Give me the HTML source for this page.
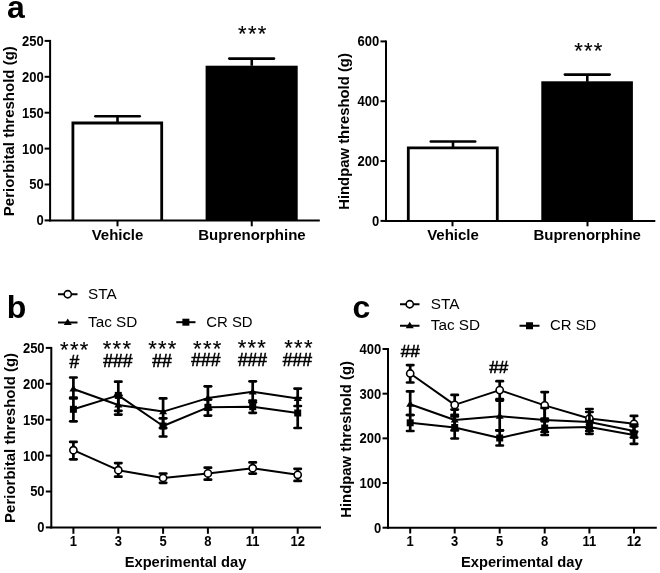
<!DOCTYPE html>
<html><head><meta charset="utf-8"><style>
html,body{margin:0;padding:0;background:#fff;width:660px;height:573px;overflow:hidden}
svg{display:block;filter:blur(0.35px)}
text{font-family:"Liberation Sans",sans-serif;fill:#000}
</style></head><body>
<svg width="660" height="573" viewBox="0 0 660 573">
<rect width="660" height="573" fill="#fff"/>
<text x="7.00" y="18.20" font-size="32" font-weight="bold" text-anchor="start" >a</text>
<line x1="50.10" y1="39.90" x2="50.10" y2="221.40" stroke="#000" stroke-width="2.0" stroke-linecap="butt"/>
<line x1="44.60" y1="220.40" x2="50.10" y2="220.40" stroke="#000" stroke-width="2.0" stroke-linecap="butt"/>
<text transform="translate(43.70,225.30) scale(1,1.08)" font-size="13" font-weight="bold" text-anchor="end">0</text>
<line x1="44.60" y1="184.50" x2="50.10" y2="184.50" stroke="#000" stroke-width="2.0" stroke-linecap="butt"/>
<text transform="translate(43.70,189.40) scale(1,1.08)" font-size="13" font-weight="bold" text-anchor="end">50</text>
<line x1="44.60" y1="148.60" x2="50.10" y2="148.60" stroke="#000" stroke-width="2.0" stroke-linecap="butt"/>
<text transform="translate(43.70,153.50) scale(1,1.08)" font-size="13" font-weight="bold" text-anchor="end">100</text>
<line x1="44.60" y1="112.70" x2="50.10" y2="112.70" stroke="#000" stroke-width="2.0" stroke-linecap="butt"/>
<text transform="translate(43.70,117.60) scale(1,1.08)" font-size="13" font-weight="bold" text-anchor="end">150</text>
<line x1="44.60" y1="76.80" x2="50.10" y2="76.80" stroke="#000" stroke-width="2.0" stroke-linecap="butt"/>
<text transform="translate(43.70,81.70) scale(1,1.08)" font-size="13" font-weight="bold" text-anchor="end">200</text>
<line x1="44.60" y1="40.90" x2="50.10" y2="40.90" stroke="#000" stroke-width="2.0" stroke-linecap="butt"/>
<text transform="translate(43.70,45.80) scale(1,1.08)" font-size="13" font-weight="bold" text-anchor="end">250</text>
<path d="M72.9 220.40 V123 H161.7 V220.40" fill="#fff" stroke="#000" stroke-width="2.8" stroke-linejoin="miter"/>
<line x1="117.50" y1="123.00" x2="117.50" y2="116.00" stroke="#000" stroke-width="2.6" stroke-linecap="butt"/>
<line x1="95.40" y1="116.30" x2="139.70" y2="116.30" stroke="#000" stroke-width="2.6" stroke-linecap="round"/>
<rect x="205.6" y="65.7" width="92.1" height="154.90" fill="#000"/>
<line x1="251.75" y1="65.75" x2="251.75" y2="58.50" stroke="#000" stroke-width="2.6" stroke-linecap="butt"/>
<line x1="229.30" y1="58.60" x2="274.00" y2="58.60" stroke="#000" stroke-width="2.6" stroke-linecap="round"/>
<line x1="49.10" y1="220.40" x2="319.80" y2="220.40" stroke="#000" stroke-width="2.0" stroke-linecap="butt"/>
<line x1="117.50" y1="220.40" x2="117.50" y2="226.30" stroke="#000" stroke-width="2.0" stroke-linecap="butt"/>
<line x1="251.75" y1="220.40" x2="251.75" y2="226.30" stroke="#000" stroke-width="2.0" stroke-linecap="butt"/>
<text x="252.85" y="40.50" font-size="22" text-anchor="middle" letter-spacing="1.3" stroke="#000" stroke-width="0.15">***</text>
<text x="117.50" y="240.30" font-size="15" font-weight="bold" text-anchor="middle" >Vehicle</text>
<text x="251.90" y="240.30" font-size="15" font-weight="bold" text-anchor="middle" >Buprenorphine</text>
<text transform="translate(14.0,131.2) rotate(-90)" font-size="15" font-weight="bold" text-anchor="middle">Periorbital threshold (g)</text>
<line x1="386.00" y1="40.40" x2="386.00" y2="221.90" stroke="#000" stroke-width="2.0" stroke-linecap="butt"/>
<line x1="380.50" y1="220.90" x2="386.00" y2="220.90" stroke="#000" stroke-width="2.0" stroke-linecap="butt"/>
<text transform="translate(379.30,225.80) scale(1,1.08)" font-size="13" font-weight="bold" text-anchor="end">0</text>
<line x1="380.50" y1="161.07" x2="386.00" y2="161.07" stroke="#000" stroke-width="2.0" stroke-linecap="butt"/>
<text transform="translate(379.30,165.97) scale(1,1.08)" font-size="13" font-weight="bold" text-anchor="end">200</text>
<line x1="380.50" y1="101.23" x2="386.00" y2="101.23" stroke="#000" stroke-width="2.0" stroke-linecap="butt"/>
<text transform="translate(379.30,106.13) scale(1,1.08)" font-size="13" font-weight="bold" text-anchor="end">400</text>
<line x1="380.50" y1="41.40" x2="386.00" y2="41.40" stroke="#000" stroke-width="2.0" stroke-linecap="butt"/>
<text transform="translate(379.30,46.30) scale(1,1.08)" font-size="13" font-weight="bold" text-anchor="end">600</text>
<path d="M408.3 220.90 V147.9 H497.3 V220.90" fill="#fff" stroke="#000" stroke-width="2.8" stroke-linejoin="miter"/>
<line x1="453.00" y1="147.50" x2="453.00" y2="141.50" stroke="#000" stroke-width="2.6" stroke-linecap="butt"/>
<line x1="430.80" y1="141.50" x2="475.20" y2="141.50" stroke="#000" stroke-width="2.6" stroke-linecap="round"/>
<rect x="541.3" y="81.3" width="91.6" height="139.60" fill="#000"/>
<line x1="587.30" y1="81.75" x2="587.30" y2="74.60" stroke="#000" stroke-width="2.6" stroke-linecap="butt"/>
<line x1="564.90" y1="74.60" x2="609.70" y2="74.60" stroke="#000" stroke-width="2.6" stroke-linecap="round"/>
<line x1="385.00" y1="220.90" x2="655.30" y2="220.90" stroke="#000" stroke-width="2.0" stroke-linecap="butt"/>
<line x1="452.50" y1="220.90" x2="452.50" y2="226.30" stroke="#000" stroke-width="2.0" stroke-linecap="butt"/>
<line x1="587.50" y1="220.90" x2="587.50" y2="226.30" stroke="#000" stroke-width="2.0" stroke-linecap="butt"/>
<text x="588.95" y="58.30" font-size="22" text-anchor="middle" letter-spacing="1.3" stroke="#000" stroke-width="0.15">***</text>
<text x="453.00" y="240.30" font-size="15" font-weight="bold" text-anchor="middle" >Vehicle</text>
<text x="587.20" y="240.30" font-size="15" font-weight="bold" text-anchor="middle" >Buprenorphine</text>
<text transform="translate(348.9,131.5) rotate(-90)" font-size="14.85" font-weight="bold" text-anchor="middle">Hindpaw threshold (g)</text>
<text x="6.70" y="317.70" font-size="32" font-weight="bold" text-anchor="start" >b</text>
<text transform="translate(15.0,437.9) rotate(-90)" font-size="15" font-weight="bold" text-anchor="middle">Periorbital threshold (g)</text>
<line x1="51.30" y1="346.90" x2="51.30" y2="528.40" stroke="#000" stroke-width="2.0" stroke-linecap="butt"/>
<line x1="45.80" y1="527.40" x2="51.30" y2="527.40" stroke="#000" stroke-width="2.0" stroke-linecap="butt"/>
<text transform="translate(44.60,532.30) scale(1,1.08)" font-size="13" font-weight="bold" text-anchor="end">0</text>
<line x1="45.80" y1="491.50" x2="51.30" y2="491.50" stroke="#000" stroke-width="2.0" stroke-linecap="butt"/>
<text transform="translate(44.60,496.40) scale(1,1.08)" font-size="13" font-weight="bold" text-anchor="end">50</text>
<line x1="45.80" y1="455.60" x2="51.30" y2="455.60" stroke="#000" stroke-width="2.0" stroke-linecap="butt"/>
<text transform="translate(44.60,460.50) scale(1,1.08)" font-size="13" font-weight="bold" text-anchor="end">100</text>
<line x1="45.80" y1="419.70" x2="51.30" y2="419.70" stroke="#000" stroke-width="2.0" stroke-linecap="butt"/>
<text transform="translate(44.60,424.60) scale(1,1.08)" font-size="13" font-weight="bold" text-anchor="end">150</text>
<line x1="45.80" y1="383.80" x2="51.30" y2="383.80" stroke="#000" stroke-width="2.0" stroke-linecap="butt"/>
<text transform="translate(44.60,388.70) scale(1,1.08)" font-size="13" font-weight="bold" text-anchor="end">200</text>
<line x1="45.80" y1="347.90" x2="51.30" y2="347.90" stroke="#000" stroke-width="2.0" stroke-linecap="butt"/>
<text transform="translate(44.60,352.80) scale(1,1.08)" font-size="13" font-weight="bold" text-anchor="end">250</text>
<line x1="50.30" y1="527.40" x2="321.00" y2="527.40" stroke="#000" stroke-width="2.0" stroke-linecap="butt"/>
<line x1="73.40" y1="527.40" x2="73.40" y2="533.80" stroke="#000" stroke-width="2.0" stroke-linecap="butt"/>
<text transform="translate(73.40,545.7) scale(1,1.08)" font-size="13" font-weight="bold" text-anchor="middle">1</text>
<line x1="118.30" y1="527.40" x2="118.30" y2="533.80" stroke="#000" stroke-width="2.0" stroke-linecap="butt"/>
<text transform="translate(118.30,545.7) scale(1,1.08)" font-size="13" font-weight="bold" text-anchor="middle">3</text>
<line x1="163.10" y1="527.40" x2="163.10" y2="533.80" stroke="#000" stroke-width="2.0" stroke-linecap="butt"/>
<text transform="translate(163.10,545.7) scale(1,1.08)" font-size="13" font-weight="bold" text-anchor="middle">5</text>
<line x1="207.90" y1="527.40" x2="207.90" y2="533.80" stroke="#000" stroke-width="2.0" stroke-linecap="butt"/>
<text transform="translate(207.90,545.7) scale(1,1.08)" font-size="13" font-weight="bold" text-anchor="middle">8</text>
<line x1="252.70" y1="527.40" x2="252.70" y2="533.80" stroke="#000" stroke-width="2.0" stroke-linecap="butt"/>
<text transform="translate(252.70,545.7) scale(1,1.08)" font-size="13" font-weight="bold" text-anchor="middle">11</text>
<line x1="297.70" y1="527.40" x2="297.70" y2="533.80" stroke="#000" stroke-width="2.0" stroke-linecap="butt"/>
<text transform="translate(297.70,545.7) scale(1,1.08)" font-size="13" font-weight="bold" text-anchor="middle">12</text>
<text x="185.50" y="566.60" font-size="14.7" font-weight="bold" text-anchor="middle" >Experimental day</text>
<line x1="58.00" y1="294.25" x2="77.50" y2="294.25" stroke="#000" stroke-width="2.0" stroke-linecap="butt"/>
<circle cx="67.75" cy="294.25" r="3.6" fill="#fff" stroke="#000" stroke-width="1.6"/>
<text x="88.00" y="298.85" font-size="15.3" font-weight="normal" text-anchor="start" >STA</text>
<line x1="58.00" y1="322.50" x2="77.50" y2="322.50" stroke="#000" stroke-width="2.0" stroke-linecap="butt"/>
<polygon points="63.75,325.10 71.75,325.10 67.75,318.60" fill="#000"/>
<text x="88.00" y="327.00" font-size="15.3" font-weight="normal" text-anchor="start" >Tac SD</text>
<line x1="176.25" y1="322.20" x2="195.50" y2="322.20" stroke="#000" stroke-width="2.0" stroke-linecap="butt"/>
<rect x="182.38" y="318.70" width="7" height="7" fill="#000"/>
<text x="206.25" y="326.80" font-size="14.9" font-weight="normal" text-anchor="start" >CR SD</text>
<text x="74.90" y="357.10" font-size="22" text-anchor="middle" letter-spacing="1.3" stroke="#000" stroke-width="0.15">***</text>
<text x="74.35" y="368.00" font-size="17.5" text-anchor="middle" stroke="#000" stroke-width="0.6">#</text>
<text x="117.55" y="355.70" font-size="22" text-anchor="middle" letter-spacing="1.3" stroke="#000" stroke-width="0.15">***</text>
<text x="117.90" y="367.40" font-size="17.5" text-anchor="middle" stroke="#000" stroke-width="0.6">###</text>
<text x="162.95" y="355.70" font-size="22" text-anchor="middle" letter-spacing="1.3" stroke="#000" stroke-width="0.15">***</text>
<text x="162.00" y="366.70" font-size="17.5" text-anchor="middle" stroke="#000" stroke-width="0.6">##</text>
<text x="207.85" y="355.70" font-size="22" text-anchor="middle" letter-spacing="1.3" stroke="#000" stroke-width="0.15">***</text>
<text x="205.90" y="365.90" font-size="17.5" text-anchor="middle" stroke="#000" stroke-width="0.6">###</text>
<text x="252.45" y="355.10" font-size="22" text-anchor="middle" letter-spacing="1.3" stroke="#000" stroke-width="0.15">***</text>
<text x="252.50" y="365.90" font-size="17.5" text-anchor="middle" stroke="#000" stroke-width="0.6">###</text>
<text x="299.05" y="354.70" font-size="22" text-anchor="middle" letter-spacing="1.3" stroke="#000" stroke-width="0.15">***</text>
<text x="297.40" y="365.70" font-size="17.5" text-anchor="middle" stroke="#000" stroke-width="0.6">###</text>
<line x1="73.40" y1="441.90" x2="73.40" y2="459.30" stroke="#000" stroke-width="2.7" stroke-linecap="butt"/>
<line x1="70.20" y1="441.90" x2="76.60" y2="441.90" stroke="#000" stroke-width="2.7" stroke-linecap="round"/>
<line x1="70.20" y1="459.30" x2="76.60" y2="459.30" stroke="#000" stroke-width="2.7" stroke-linecap="round"/>
<line x1="118.30" y1="463.10" x2="118.30" y2="476.70" stroke="#000" stroke-width="2.7" stroke-linecap="butt"/>
<line x1="115.10" y1="463.10" x2="121.50" y2="463.10" stroke="#000" stroke-width="2.7" stroke-linecap="round"/>
<line x1="115.10" y1="476.70" x2="121.50" y2="476.70" stroke="#000" stroke-width="2.7" stroke-linecap="round"/>
<line x1="163.10" y1="473.50" x2="163.10" y2="482.80" stroke="#000" stroke-width="2.7" stroke-linecap="butt"/>
<line x1="159.90" y1="473.50" x2="166.30" y2="473.50" stroke="#000" stroke-width="2.7" stroke-linecap="round"/>
<line x1="159.90" y1="482.80" x2="166.30" y2="482.80" stroke="#000" stroke-width="2.7" stroke-linecap="round"/>
<line x1="207.90" y1="467.70" x2="207.90" y2="479.70" stroke="#000" stroke-width="2.7" stroke-linecap="butt"/>
<line x1="204.70" y1="467.70" x2="211.10" y2="467.70" stroke="#000" stroke-width="2.7" stroke-linecap="round"/>
<line x1="204.70" y1="479.70" x2="211.10" y2="479.70" stroke="#000" stroke-width="2.7" stroke-linecap="round"/>
<line x1="252.70" y1="462.40" x2="252.70" y2="473.60" stroke="#000" stroke-width="2.7" stroke-linecap="butt"/>
<line x1="249.50" y1="462.40" x2="255.90" y2="462.40" stroke="#000" stroke-width="2.7" stroke-linecap="round"/>
<line x1="249.50" y1="473.60" x2="255.90" y2="473.60" stroke="#000" stroke-width="2.7" stroke-linecap="round"/>
<line x1="297.70" y1="468.80" x2="297.70" y2="480.90" stroke="#000" stroke-width="2.7" stroke-linecap="butt"/>
<line x1="294.50" y1="468.80" x2="300.90" y2="468.80" stroke="#000" stroke-width="2.7" stroke-linecap="round"/>
<line x1="294.50" y1="480.90" x2="300.90" y2="480.90" stroke="#000" stroke-width="2.7" stroke-linecap="round"/>
<polyline points="73.40,450.20 118.30,470.20 163.10,478.00 207.90,473.40 252.70,468.20 297.70,474.80" fill="none" stroke="#000" stroke-width="2.0" stroke-linejoin="round"/>
<circle cx="73.40" cy="450.20" r="3.6" fill="#fff" stroke="#000" stroke-width="1.6"/>
<circle cx="118.30" cy="470.20" r="3.6" fill="#fff" stroke="#000" stroke-width="1.6"/>
<circle cx="163.10" cy="478.00" r="3.6" fill="#fff" stroke="#000" stroke-width="1.6"/>
<circle cx="207.90" cy="473.40" r="3.6" fill="#fff" stroke="#000" stroke-width="1.6"/>
<circle cx="252.70" cy="468.20" r="3.6" fill="#fff" stroke="#000" stroke-width="1.6"/>
<circle cx="297.70" cy="474.80" r="3.6" fill="#fff" stroke="#000" stroke-width="1.6"/>
<line x1="73.40" y1="377.50" x2="73.40" y2="398.50" stroke="#000" stroke-width="2.7" stroke-linecap="butt"/>
<line x1="70.20" y1="377.50" x2="76.60" y2="377.50" stroke="#000" stroke-width="2.7" stroke-linecap="round"/>
<line x1="70.20" y1="398.50" x2="76.60" y2="398.50" stroke="#000" stroke-width="2.7" stroke-linecap="round"/>
<line x1="118.30" y1="395.50" x2="118.30" y2="414.60" stroke="#000" stroke-width="2.7" stroke-linecap="butt"/>
<line x1="115.10" y1="395.50" x2="121.50" y2="395.50" stroke="#000" stroke-width="2.7" stroke-linecap="round"/>
<line x1="115.10" y1="414.60" x2="121.50" y2="414.60" stroke="#000" stroke-width="2.7" stroke-linecap="round"/>
<line x1="163.10" y1="398.40" x2="163.10" y2="428.00" stroke="#000" stroke-width="2.7" stroke-linecap="butt"/>
<line x1="159.90" y1="398.40" x2="166.30" y2="398.40" stroke="#000" stroke-width="2.7" stroke-linecap="round"/>
<line x1="159.90" y1="428.00" x2="166.30" y2="428.00" stroke="#000" stroke-width="2.7" stroke-linecap="round"/>
<line x1="207.90" y1="386.30" x2="207.90" y2="409.50" stroke="#000" stroke-width="2.7" stroke-linecap="butt"/>
<line x1="204.70" y1="386.30" x2="211.10" y2="386.30" stroke="#000" stroke-width="2.7" stroke-linecap="round"/>
<line x1="204.70" y1="409.50" x2="211.10" y2="409.50" stroke="#000" stroke-width="2.7" stroke-linecap="round"/>
<line x1="252.70" y1="381.30" x2="252.70" y2="402.30" stroke="#000" stroke-width="2.7" stroke-linecap="butt"/>
<line x1="249.50" y1="381.30" x2="255.90" y2="381.30" stroke="#000" stroke-width="2.7" stroke-linecap="round"/>
<line x1="249.50" y1="402.30" x2="255.90" y2="402.30" stroke="#000" stroke-width="2.7" stroke-linecap="round"/>
<line x1="297.70" y1="388.60" x2="297.70" y2="406.00" stroke="#000" stroke-width="2.7" stroke-linecap="butt"/>
<line x1="294.50" y1="388.60" x2="300.90" y2="388.60" stroke="#000" stroke-width="2.7" stroke-linecap="round"/>
<line x1="294.50" y1="406.00" x2="300.90" y2="406.00" stroke="#000" stroke-width="2.7" stroke-linecap="round"/>
<polyline points="73.40,389.00 118.30,405.00 163.10,411.60 207.90,398.10 252.70,391.80 297.70,398.50" fill="none" stroke="#000" stroke-width="2.0" stroke-linejoin="round"/>
<polygon points="69.40,391.60 77.40,391.60 73.40,385.10" fill="#000"/>
<polygon points="114.30,407.60 122.30,407.60 118.30,401.10" fill="#000"/>
<polygon points="159.10,414.20 167.10,414.20 163.10,407.70" fill="#000"/>
<polygon points="203.90,400.70 211.90,400.70 207.90,394.20" fill="#000"/>
<polygon points="248.70,394.40 256.70,394.40 252.70,387.90" fill="#000"/>
<polygon points="293.70,401.10 301.70,401.10 297.70,394.60" fill="#000"/>
<line x1="73.40" y1="397.70" x2="73.40" y2="421.30" stroke="#000" stroke-width="2.7" stroke-linecap="butt"/>
<line x1="70.20" y1="397.70" x2="76.60" y2="397.70" stroke="#000" stroke-width="2.7" stroke-linecap="round"/>
<line x1="70.20" y1="421.30" x2="76.60" y2="421.30" stroke="#000" stroke-width="2.7" stroke-linecap="round"/>
<line x1="118.30" y1="381.70" x2="118.30" y2="410.80" stroke="#000" stroke-width="2.7" stroke-linecap="butt"/>
<line x1="115.10" y1="381.70" x2="121.50" y2="381.70" stroke="#000" stroke-width="2.7" stroke-linecap="round"/>
<line x1="115.10" y1="410.80" x2="121.50" y2="410.80" stroke="#000" stroke-width="2.7" stroke-linecap="round"/>
<line x1="163.10" y1="418.30" x2="163.10" y2="436.50" stroke="#000" stroke-width="2.7" stroke-linecap="butt"/>
<line x1="159.90" y1="418.30" x2="166.30" y2="418.30" stroke="#000" stroke-width="2.7" stroke-linecap="round"/>
<line x1="159.90" y1="436.50" x2="166.30" y2="436.50" stroke="#000" stroke-width="2.7" stroke-linecap="round"/>
<line x1="207.90" y1="399.50" x2="207.90" y2="415.60" stroke="#000" stroke-width="2.7" stroke-linecap="butt"/>
<line x1="204.70" y1="399.50" x2="211.10" y2="399.50" stroke="#000" stroke-width="2.7" stroke-linecap="round"/>
<line x1="204.70" y1="415.60" x2="211.10" y2="415.60" stroke="#000" stroke-width="2.7" stroke-linecap="round"/>
<line x1="252.70" y1="400.50" x2="252.70" y2="412.80" stroke="#000" stroke-width="2.7" stroke-linecap="butt"/>
<line x1="249.50" y1="400.50" x2="255.90" y2="400.50" stroke="#000" stroke-width="2.7" stroke-linecap="round"/>
<line x1="249.50" y1="412.80" x2="255.90" y2="412.80" stroke="#000" stroke-width="2.7" stroke-linecap="round"/>
<line x1="297.70" y1="398.00" x2="297.70" y2="428.00" stroke="#000" stroke-width="2.7" stroke-linecap="butt"/>
<line x1="294.50" y1="398.00" x2="300.90" y2="398.00" stroke="#000" stroke-width="2.7" stroke-linecap="round"/>
<line x1="294.50" y1="428.00" x2="300.90" y2="428.00" stroke="#000" stroke-width="2.7" stroke-linecap="round"/>
<polyline points="73.40,409.30 118.30,395.40 163.10,426.00 207.90,407.30 252.70,406.70 297.70,413.00" fill="none" stroke="#000" stroke-width="2.0" stroke-linejoin="round"/>
<rect x="69.90" y="405.80" width="7" height="7" fill="#000"/>
<rect x="114.80" y="391.90" width="7" height="7" fill="#000"/>
<rect x="159.60" y="422.50" width="7" height="7" fill="#000"/>
<rect x="204.40" y="403.80" width="7" height="7" fill="#000"/>
<rect x="249.20" y="403.20" width="7" height="7" fill="#000"/>
<rect x="294.20" y="409.50" width="7" height="7" fill="#000"/>
<text x="352.60" y="317.70" font-size="32" font-weight="bold" text-anchor="start" >c</text>
<text transform="translate(350.9,439.4) rotate(-90)" font-size="14.85" font-weight="bold" text-anchor="middle">Hindpaw threshold (g)</text>
<line x1="388.00" y1="348.00" x2="388.00" y2="528.70" stroke="#000" stroke-width="2.0" stroke-linecap="butt"/>
<line x1="382.50" y1="527.70" x2="388.00" y2="527.70" stroke="#000" stroke-width="2.0" stroke-linecap="butt"/>
<text transform="translate(381.20,532.60) scale(1,1.08)" font-size="13" font-weight="bold" text-anchor="end">0</text>
<line x1="382.50" y1="483.03" x2="388.00" y2="483.03" stroke="#000" stroke-width="2.0" stroke-linecap="butt"/>
<text transform="translate(381.20,487.93) scale(1,1.08)" font-size="13" font-weight="bold" text-anchor="end">100</text>
<line x1="382.50" y1="438.35" x2="388.00" y2="438.35" stroke="#000" stroke-width="2.0" stroke-linecap="butt"/>
<text transform="translate(381.20,443.25) scale(1,1.08)" font-size="13" font-weight="bold" text-anchor="end">200</text>
<line x1="382.50" y1="393.68" x2="388.00" y2="393.68" stroke="#000" stroke-width="2.0" stroke-linecap="butt"/>
<text transform="translate(381.20,398.58) scale(1,1.08)" font-size="13" font-weight="bold" text-anchor="end">300</text>
<line x1="382.50" y1="349.00" x2="388.00" y2="349.00" stroke="#000" stroke-width="2.0" stroke-linecap="butt"/>
<text transform="translate(381.20,353.90) scale(1,1.08)" font-size="13" font-weight="bold" text-anchor="end">400</text>
<line x1="387.00" y1="527.70" x2="656.80" y2="527.70" stroke="#000" stroke-width="2.0" stroke-linecap="butt"/>
<line x1="410.20" y1="527.70" x2="410.20" y2="533.50" stroke="#000" stroke-width="2.0" stroke-linecap="butt"/>
<text transform="translate(410.20,545.8) scale(1,1.08)" font-size="13" font-weight="bold" text-anchor="middle">1</text>
<line x1="454.70" y1="527.70" x2="454.70" y2="533.50" stroke="#000" stroke-width="2.0" stroke-linecap="butt"/>
<text transform="translate(454.70,545.8) scale(1,1.08)" font-size="13" font-weight="bold" text-anchor="middle">3</text>
<line x1="499.70" y1="527.70" x2="499.70" y2="533.50" stroke="#000" stroke-width="2.0" stroke-linecap="butt"/>
<text transform="translate(499.70,545.8) scale(1,1.08)" font-size="13" font-weight="bold" text-anchor="middle">5</text>
<line x1="544.70" y1="527.70" x2="544.70" y2="533.50" stroke="#000" stroke-width="2.0" stroke-linecap="butt"/>
<text transform="translate(544.70,545.8) scale(1,1.08)" font-size="13" font-weight="bold" text-anchor="middle">8</text>
<line x1="589.40" y1="527.70" x2="589.40" y2="533.50" stroke="#000" stroke-width="2.0" stroke-linecap="butt"/>
<text transform="translate(589.40,545.8) scale(1,1.08)" font-size="13" font-weight="bold" text-anchor="middle">11</text>
<line x1="634.00" y1="527.70" x2="634.00" y2="533.50" stroke="#000" stroke-width="2.0" stroke-linecap="butt"/>
<text transform="translate(634.00,545.8) scale(1,1.08)" font-size="13" font-weight="bold" text-anchor="middle">12</text>
<text x="521.80" y="566.60" font-size="14.7" font-weight="bold" text-anchor="middle" >Experimental day</text>
<line x1="400.00" y1="304.25" x2="419.50" y2="304.25" stroke="#000" stroke-width="2.0" stroke-linecap="butt"/>
<circle cx="409.75" cy="304.25" r="3.6" fill="#fff" stroke="#000" stroke-width="1.6"/>
<text x="430.75" y="308.65" font-size="15.3" font-weight="normal" text-anchor="start" >STA</text>
<line x1="400.00" y1="325.75" x2="419.50" y2="325.75" stroke="#000" stroke-width="2.0" stroke-linecap="butt"/>
<polygon points="405.75,328.35 413.75,328.35 409.75,321.85" fill="#000"/>
<text x="430.75" y="330.25" font-size="15.3" font-weight="normal" text-anchor="start" >Tac SD</text>
<line x1="519.50" y1="325.75" x2="539.50" y2="325.75" stroke="#000" stroke-width="2.0" stroke-linecap="butt"/>
<rect x="526.00" y="322.25" width="7" height="7" fill="#000"/>
<text x="550.00" y="330.25" font-size="14.9" font-weight="normal" text-anchor="start" >CR SD</text>
<text x="410.20" y="357.00" font-size="17" text-anchor="middle" stroke="#000" stroke-width="0.6">##</text>
<text x="498.70" y="372.80" font-size="17" text-anchor="middle" stroke="#000" stroke-width="0.6">##</text>
<line x1="410.20" y1="365.10" x2="410.20" y2="382.50" stroke="#000" stroke-width="2.7" stroke-linecap="butt"/>
<line x1="407.00" y1="365.10" x2="413.40" y2="365.10" stroke="#000" stroke-width="2.7" stroke-linecap="round"/>
<line x1="407.00" y1="382.50" x2="413.40" y2="382.50" stroke="#000" stroke-width="2.7" stroke-linecap="round"/>
<line x1="454.70" y1="394.90" x2="454.70" y2="414.90" stroke="#000" stroke-width="2.7" stroke-linecap="butt"/>
<line x1="451.50" y1="394.90" x2="457.90" y2="394.90" stroke="#000" stroke-width="2.7" stroke-linecap="round"/>
<line x1="451.50" y1="414.90" x2="457.90" y2="414.90" stroke="#000" stroke-width="2.7" stroke-linecap="round"/>
<line x1="499.70" y1="381.20" x2="499.70" y2="399.20" stroke="#000" stroke-width="2.7" stroke-linecap="butt"/>
<line x1="496.50" y1="381.20" x2="502.90" y2="381.20" stroke="#000" stroke-width="2.7" stroke-linecap="round"/>
<line x1="496.50" y1="399.20" x2="502.90" y2="399.20" stroke="#000" stroke-width="2.7" stroke-linecap="round"/>
<line x1="544.70" y1="392.10" x2="544.70" y2="418.70" stroke="#000" stroke-width="2.7" stroke-linecap="butt"/>
<line x1="541.50" y1="392.10" x2="547.90" y2="392.10" stroke="#000" stroke-width="2.7" stroke-linecap="round"/>
<line x1="541.50" y1="418.70" x2="547.90" y2="418.70" stroke="#000" stroke-width="2.7" stroke-linecap="round"/>
<line x1="589.40" y1="409.00" x2="589.40" y2="428.00" stroke="#000" stroke-width="2.7" stroke-linecap="butt"/>
<line x1="586.20" y1="409.00" x2="592.60" y2="409.00" stroke="#000" stroke-width="2.7" stroke-linecap="round"/>
<line x1="586.20" y1="428.00" x2="592.60" y2="428.00" stroke="#000" stroke-width="2.7" stroke-linecap="round"/>
<line x1="634.00" y1="415.90" x2="634.00" y2="431.70" stroke="#000" stroke-width="2.7" stroke-linecap="butt"/>
<line x1="630.80" y1="415.90" x2="637.20" y2="415.90" stroke="#000" stroke-width="2.7" stroke-linecap="round"/>
<line x1="630.80" y1="431.70" x2="637.20" y2="431.70" stroke="#000" stroke-width="2.7" stroke-linecap="round"/>
<polyline points="410.20,373.50 454.70,404.90 499.70,390.10 544.70,405.40 589.40,418.50 634.00,423.80" fill="none" stroke="#000" stroke-width="2.0" stroke-linejoin="round"/>
<circle cx="410.20" cy="373.50" r="3.6" fill="#fff" stroke="#000" stroke-width="1.6"/>
<circle cx="454.70" cy="404.90" r="3.6" fill="#fff" stroke="#000" stroke-width="1.6"/>
<circle cx="499.70" cy="390.10" r="3.6" fill="#fff" stroke="#000" stroke-width="1.6"/>
<circle cx="544.70" cy="405.40" r="3.6" fill="#fff" stroke="#000" stroke-width="1.6"/>
<circle cx="589.40" cy="418.50" r="3.6" fill="#fff" stroke="#000" stroke-width="1.6"/>
<circle cx="634.00" cy="423.80" r="3.6" fill="#fff" stroke="#000" stroke-width="1.6"/>
<line x1="410.20" y1="391.40" x2="410.20" y2="415.00" stroke="#000" stroke-width="2.7" stroke-linecap="butt"/>
<line x1="407.00" y1="391.40" x2="413.40" y2="391.40" stroke="#000" stroke-width="2.7" stroke-linecap="round"/>
<line x1="407.00" y1="415.00" x2="413.40" y2="415.00" stroke="#000" stroke-width="2.7" stroke-linecap="round"/>
<line x1="454.70" y1="409.60" x2="454.70" y2="430.40" stroke="#000" stroke-width="2.7" stroke-linecap="butt"/>
<line x1="451.50" y1="409.60" x2="457.90" y2="409.60" stroke="#000" stroke-width="2.7" stroke-linecap="round"/>
<line x1="451.50" y1="430.40" x2="457.90" y2="430.40" stroke="#000" stroke-width="2.7" stroke-linecap="round"/>
<line x1="499.70" y1="400.60" x2="499.70" y2="430.40" stroke="#000" stroke-width="2.7" stroke-linecap="butt"/>
<line x1="496.50" y1="400.60" x2="502.90" y2="400.60" stroke="#000" stroke-width="2.7" stroke-linecap="round"/>
<line x1="496.50" y1="430.40" x2="502.90" y2="430.40" stroke="#000" stroke-width="2.7" stroke-linecap="round"/>
<line x1="544.70" y1="408.00" x2="544.70" y2="432.00" stroke="#000" stroke-width="2.7" stroke-linecap="butt"/>
<line x1="541.50" y1="408.00" x2="547.90" y2="408.00" stroke="#000" stroke-width="2.7" stroke-linecap="round"/>
<line x1="541.50" y1="432.00" x2="547.90" y2="432.00" stroke="#000" stroke-width="2.7" stroke-linecap="round"/>
<line x1="589.40" y1="412.00" x2="589.40" y2="431.00" stroke="#000" stroke-width="2.7" stroke-linecap="butt"/>
<line x1="586.20" y1="412.00" x2="592.60" y2="412.00" stroke="#000" stroke-width="2.7" stroke-linecap="round"/>
<line x1="586.20" y1="431.00" x2="592.60" y2="431.00" stroke="#000" stroke-width="2.7" stroke-linecap="round"/>
<line x1="634.00" y1="424.60" x2="634.00" y2="437.50" stroke="#000" stroke-width="2.7" stroke-linecap="butt"/>
<line x1="630.80" y1="424.60" x2="637.20" y2="424.60" stroke="#000" stroke-width="2.7" stroke-linecap="round"/>
<line x1="630.80" y1="437.50" x2="637.20" y2="437.50" stroke="#000" stroke-width="2.7" stroke-linecap="round"/>
<polyline points="410.20,404.20 454.70,420.00 499.70,416.20 544.70,420.00 589.40,422.00 634.00,431.00" fill="none" stroke="#000" stroke-width="2.0" stroke-linejoin="round"/>
<polygon points="406.20,406.80 414.20,406.80 410.20,400.30" fill="#000"/>
<polygon points="450.70,422.60 458.70,422.60 454.70,416.10" fill="#000"/>
<polygon points="495.70,418.80 503.70,418.80 499.70,412.30" fill="#000"/>
<polygon points="540.70,422.60 548.70,422.60 544.70,416.10" fill="#000"/>
<polygon points="585.40,424.60 593.40,424.60 589.40,418.10" fill="#000"/>
<polygon points="630.00,433.60 638.00,433.60 634.00,427.10" fill="#000"/>
<line x1="410.20" y1="415.00" x2="410.20" y2="431.00" stroke="#000" stroke-width="2.7" stroke-linecap="butt"/>
<line x1="407.00" y1="415.00" x2="413.40" y2="415.00" stroke="#000" stroke-width="2.7" stroke-linecap="round"/>
<line x1="407.00" y1="431.00" x2="413.40" y2="431.00" stroke="#000" stroke-width="2.7" stroke-linecap="round"/>
<line x1="454.70" y1="416.50" x2="454.70" y2="438.50" stroke="#000" stroke-width="2.7" stroke-linecap="butt"/>
<line x1="451.50" y1="416.50" x2="457.90" y2="416.50" stroke="#000" stroke-width="2.7" stroke-linecap="round"/>
<line x1="451.50" y1="438.50" x2="457.90" y2="438.50" stroke="#000" stroke-width="2.7" stroke-linecap="round"/>
<line x1="499.70" y1="430.40" x2="499.70" y2="445.50" stroke="#000" stroke-width="2.7" stroke-linecap="butt"/>
<line x1="496.50" y1="430.40" x2="502.90" y2="430.40" stroke="#000" stroke-width="2.7" stroke-linecap="round"/>
<line x1="496.50" y1="445.50" x2="502.90" y2="445.50" stroke="#000" stroke-width="2.7" stroke-linecap="round"/>
<line x1="544.70" y1="421.00" x2="544.70" y2="435.00" stroke="#000" stroke-width="2.7" stroke-linecap="butt"/>
<line x1="541.50" y1="421.00" x2="547.90" y2="421.00" stroke="#000" stroke-width="2.7" stroke-linecap="round"/>
<line x1="541.50" y1="435.00" x2="547.90" y2="435.00" stroke="#000" stroke-width="2.7" stroke-linecap="round"/>
<line x1="589.40" y1="421.00" x2="589.40" y2="433.80" stroke="#000" stroke-width="2.7" stroke-linecap="butt"/>
<line x1="586.20" y1="421.00" x2="592.60" y2="421.00" stroke="#000" stroke-width="2.7" stroke-linecap="round"/>
<line x1="586.20" y1="433.80" x2="592.60" y2="433.80" stroke="#000" stroke-width="2.7" stroke-linecap="round"/>
<line x1="634.00" y1="426.20" x2="634.00" y2="443.80" stroke="#000" stroke-width="2.7" stroke-linecap="butt"/>
<line x1="630.80" y1="426.20" x2="637.20" y2="426.20" stroke="#000" stroke-width="2.7" stroke-linecap="round"/>
<line x1="630.80" y1="443.80" x2="637.20" y2="443.80" stroke="#000" stroke-width="2.7" stroke-linecap="round"/>
<polyline points="410.20,422.80 454.70,427.50 499.70,438.00 544.70,428.00 589.40,427.00 634.00,435.00" fill="none" stroke="#000" stroke-width="2.0" stroke-linejoin="round"/>
<rect x="406.70" y="419.30" width="7" height="7" fill="#000"/>
<rect x="451.20" y="424.00" width="7" height="7" fill="#000"/>
<rect x="496.20" y="434.50" width="7" height="7" fill="#000"/>
<rect x="541.20" y="424.50" width="7" height="7" fill="#000"/>
<rect x="585.90" y="423.50" width="7" height="7" fill="#000"/>
<rect x="630.50" y="431.50" width="7" height="7" fill="#000"/>
</svg></body></html>
